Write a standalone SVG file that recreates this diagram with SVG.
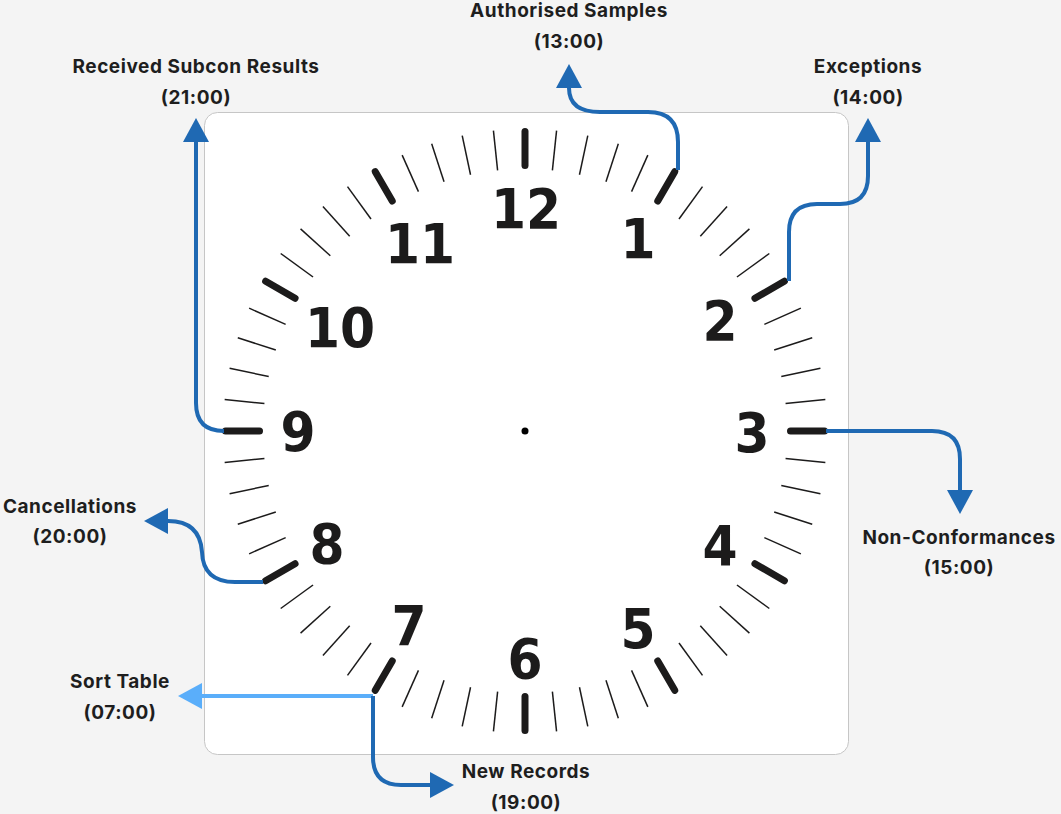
<svg xmlns="http://www.w3.org/2000/svg" width="1061" height="814" viewBox="0 0 1061 814">
<style>
.lbl{font-family:Inter,"Liberation Sans",sans-serif;font-weight:700;font-size:19px;letter-spacing:0.55px;fill:#1e1e1e;text-anchor:middle}
.num{font-family:"DejaVu Sans Condensed","DejaVu Sans",sans-serif;font-stretch:condensed;font-weight:bold;font-size:56px;fill:#1c1b1b;text-anchor:middle}
.min{stroke:#1c1b1b;stroke-width:1.5}
.hr{stroke:#1c1b1b;stroke-width:7;stroke-linecap:round}
.con{fill:none;stroke:#1f69b3;stroke-width:4}
.con2{fill:none;stroke:#5aaefa;stroke-width:4}
</style>
<defs>
<marker id="ah" viewBox="0 0 24 26" refX="0" refY="13" markerWidth="24" markerHeight="26" markerUnits="userSpaceOnUse" orient="auto"><path d="M0,0 L24,13 L0,26 Z" fill="#1f69b3"/></marker>
<marker id="ah2" viewBox="0 0 24 26" refX="0" refY="13" markerWidth="24" markerHeight="26" markerUnits="userSpaceOnUse" orient="auto"><path d="M0,0 L24,13 L0,26 Z" fill="#5aaefa"/></marker>
</defs>
<rect width="1061" height="814" fill="#f4f4f4"/>
<g id="clock">
<rect x="204.5" y="112.5" width="644" height="642" rx="13" fill="#ffffff" stroke="#c6c6c6" stroke-width="1"/>
<g id="minute-ticks">
<line class="min" x1="525" y1="129" x2="525" y2="169" transform="rotate(6 525 431)"/>
<line class="min" x1="525" y1="129" x2="525" y2="169" transform="rotate(12 525 431)"/>
<line class="min" x1="525" y1="129" x2="525" y2="169" transform="rotate(18 525 431)"/>
<line class="min" x1="525" y1="129" x2="525" y2="169" transform="rotate(24 525 431)"/>
<line class="min" x1="525" y1="129" x2="525" y2="169" transform="rotate(36 525 431)"/>
<line class="min" x1="525" y1="129" x2="525" y2="169" transform="rotate(42 525 431)"/>
<line class="min" x1="525" y1="129" x2="525" y2="169" transform="rotate(48 525 431)"/>
<line class="min" x1="525" y1="129" x2="525" y2="169" transform="rotate(54 525 431)"/>
<line class="min" x1="525" y1="129" x2="525" y2="169" transform="rotate(66 525 431)"/>
<line class="min" x1="525" y1="129" x2="525" y2="169" transform="rotate(72 525 431)"/>
<line class="min" x1="525" y1="129" x2="525" y2="169" transform="rotate(78 525 431)"/>
<line class="min" x1="525" y1="129" x2="525" y2="169" transform="rotate(84 525 431)"/>
<line class="min" x1="525" y1="129" x2="525" y2="169" transform="rotate(96 525 431)"/>
<line class="min" x1="525" y1="129" x2="525" y2="169" transform="rotate(102 525 431)"/>
<line class="min" x1="525" y1="129" x2="525" y2="169" transform="rotate(108 525 431)"/>
<line class="min" x1="525" y1="129" x2="525" y2="169" transform="rotate(114 525 431)"/>
<line class="min" x1="525" y1="129" x2="525" y2="169" transform="rotate(126 525 431)"/>
<line class="min" x1="525" y1="129" x2="525" y2="169" transform="rotate(132 525 431)"/>
<line class="min" x1="525" y1="129" x2="525" y2="169" transform="rotate(138 525 431)"/>
<line class="min" x1="525" y1="129" x2="525" y2="169" transform="rotate(144 525 431)"/>
<line class="min" x1="525" y1="129" x2="525" y2="169" transform="rotate(156 525 431)"/>
<line class="min" x1="525" y1="129" x2="525" y2="169" transform="rotate(162 525 431)"/>
<line class="min" x1="525" y1="129" x2="525" y2="169" transform="rotate(168 525 431)"/>
<line class="min" x1="525" y1="129" x2="525" y2="169" transform="rotate(174 525 431)"/>
<line class="min" x1="525" y1="129" x2="525" y2="169" transform="rotate(186 525 431)"/>
<line class="min" x1="525" y1="129" x2="525" y2="169" transform="rotate(192 525 431)"/>
<line class="min" x1="525" y1="129" x2="525" y2="169" transform="rotate(198 525 431)"/>
<line class="min" x1="525" y1="129" x2="525" y2="169" transform="rotate(204 525 431)"/>
<line class="min" x1="525" y1="129" x2="525" y2="169" transform="rotate(216 525 431)"/>
<line class="min" x1="525" y1="129" x2="525" y2="169" transform="rotate(222 525 431)"/>
<line class="min" x1="525" y1="129" x2="525" y2="169" transform="rotate(228 525 431)"/>
<line class="min" x1="525" y1="129" x2="525" y2="169" transform="rotate(234 525 431)"/>
<line class="min" x1="525" y1="129" x2="525" y2="169" transform="rotate(246 525 431)"/>
<line class="min" x1="525" y1="129" x2="525" y2="169" transform="rotate(252 525 431)"/>
<line class="min" x1="525" y1="129" x2="525" y2="169" transform="rotate(258 525 431)"/>
<line class="min" x1="525" y1="129" x2="525" y2="169" transform="rotate(264 525 431)"/>
<line class="min" x1="525" y1="129" x2="525" y2="169" transform="rotate(276 525 431)"/>
<line class="min" x1="525" y1="129" x2="525" y2="169" transform="rotate(282 525 431)"/>
<line class="min" x1="525" y1="129" x2="525" y2="169" transform="rotate(288 525 431)"/>
<line class="min" x1="525" y1="129" x2="525" y2="169" transform="rotate(294 525 431)"/>
<line class="min" x1="525" y1="129" x2="525" y2="169" transform="rotate(306 525 431)"/>
<line class="min" x1="525" y1="129" x2="525" y2="169" transform="rotate(312 525 431)"/>
<line class="min" x1="525" y1="129" x2="525" y2="169" transform="rotate(318 525 431)"/>
<line class="min" x1="525" y1="129" x2="525" y2="169" transform="rotate(324 525 431)"/>
<line class="min" x1="525" y1="129" x2="525" y2="169" transform="rotate(336 525 431)"/>
<line class="min" x1="525" y1="129" x2="525" y2="169" transform="rotate(342 525 431)"/>
<line class="min" x1="525" y1="129" x2="525" y2="169" transform="rotate(348 525 431)"/>
<line class="min" x1="525" y1="129" x2="525" y2="169" transform="rotate(354 525 431)"/>
</g>
<g id="hour-ticks">
<line class="hr" x1="525" y1="131.5" x2="525" y2="165.5"/>
<line class="hr" x1="525" y1="131.5" x2="525" y2="165.5" transform="rotate(30 525 431)"/>
<line class="hr" x1="525" y1="131.5" x2="525" y2="165.5" transform="rotate(60 525 431)"/>
<line class="hr" x1="525" y1="131.5" x2="525" y2="165.5" transform="rotate(90 525 431)"/>
<line class="hr" x1="525" y1="131.5" x2="525" y2="165.5" transform="rotate(120 525 431)"/>
<line class="hr" x1="525" y1="131.5" x2="525" y2="165.5" transform="rotate(150 525 431)"/>
<line class="hr" x1="525" y1="131.5" x2="525" y2="165.5" transform="rotate(180 525 431)"/>
<line class="hr" x1="525" y1="131.5" x2="525" y2="165.5" transform="rotate(210 525 431)"/>
<line class="hr" x1="525" y1="131.5" x2="525" y2="165.5" transform="rotate(240 525 431)"/>
<line class="hr" x1="525" y1="131.5" x2="525" y2="165.5" transform="rotate(270 525 431)"/>
<line class="hr" x1="525" y1="131.5" x2="525" y2="165.5" transform="rotate(300 525 431)"/>
<line class="hr" x1="525" y1="131.5" x2="525" y2="165.5" transform="rotate(330 525 431)"/>
</g>
<g id="numbers">
<text class="num" x="526" y="228">12</text>
<text class="num" x="638" y="258">1</text>
<text class="num" x="720" y="340">2</text>
<text class="num" x="752" y="452">3</text>
<text class="num" x="720" y="565">4</text>
<text class="num" x="638" y="648">5</text>
<text class="num" x="525" y="678">6</text>
<text class="num" x="409" y="645">7</text>
<text class="num" x="327" y="563">8</text>
<text class="num" x="298" y="451">9</text>
<text class="num" x="340" y="347">10</text>
<text class="num" x="420" y="263">11</text>
</g>
<circle cx="525" cy="431" r="3.5" fill="#000"/>
</g>
<g id="connectors">
<path class="con" d="M678,170 V142 Q678,112 648,112 H600 Q569,112 569,88" marker-end="url(#ah)"/>
<path class="con" d="M789,281 V232 Q789,204 817,204 H840 Q868,204 868,176 V142" marker-end="url(#ah)"/>
<path class="con" d="M826,431 H932 Q960,431 960,459 V490" marker-end="url(#ah)"/>
<path class="con" d="M224,431 Q196,431 196,403 V142" marker-end="url(#ah)"/>
<path class="con" d="M263,582 H235 Q203,582 202,552 Q200,521 168,521" marker-end="url(#ah)"/>
<path class="con2" d="M373,696 H202" marker-end="url(#ah2)"/>
<path class="con" d="M373,696 V757 Q373,785 401,785 H430" marker-end="url(#ah)"/>
</g>
<g id="label-authorised"><text class="lbl" x="569" y="17">Authorised Samples</text><text class="lbl" x="569" y="48">(13:00)</text></g>
<g id="label-exceptions"><text class="lbl" x="868" y="73">Exceptions</text><text class="lbl" x="868" y="104">(14:00)</text></g>
<g id="label-received"><text class="lbl" x="196" y="73">Received Subcon Results</text><text class="lbl" x="196" y="104">(21:00)</text></g>
<g id="label-cancellations"><text class="lbl" x="70" y="513">Cancellations</text><text class="lbl" x="70" y="543">(20:00)</text></g>
<g id="label-nonconf"><text class="lbl" x="959" y="544">Non-Conformances</text><text class="lbl" x="959" y="574">(15:00)</text></g>
<g id="label-sort"><text class="lbl" x="120" y="688">Sort Table</text><text class="lbl" x="120" y="719">(07:00)</text></g>
<g id="label-new"><text class="lbl" x="526" y="778">New Records</text><text class="lbl" x="526" y="809">(19:00)</text></g>
</svg>
